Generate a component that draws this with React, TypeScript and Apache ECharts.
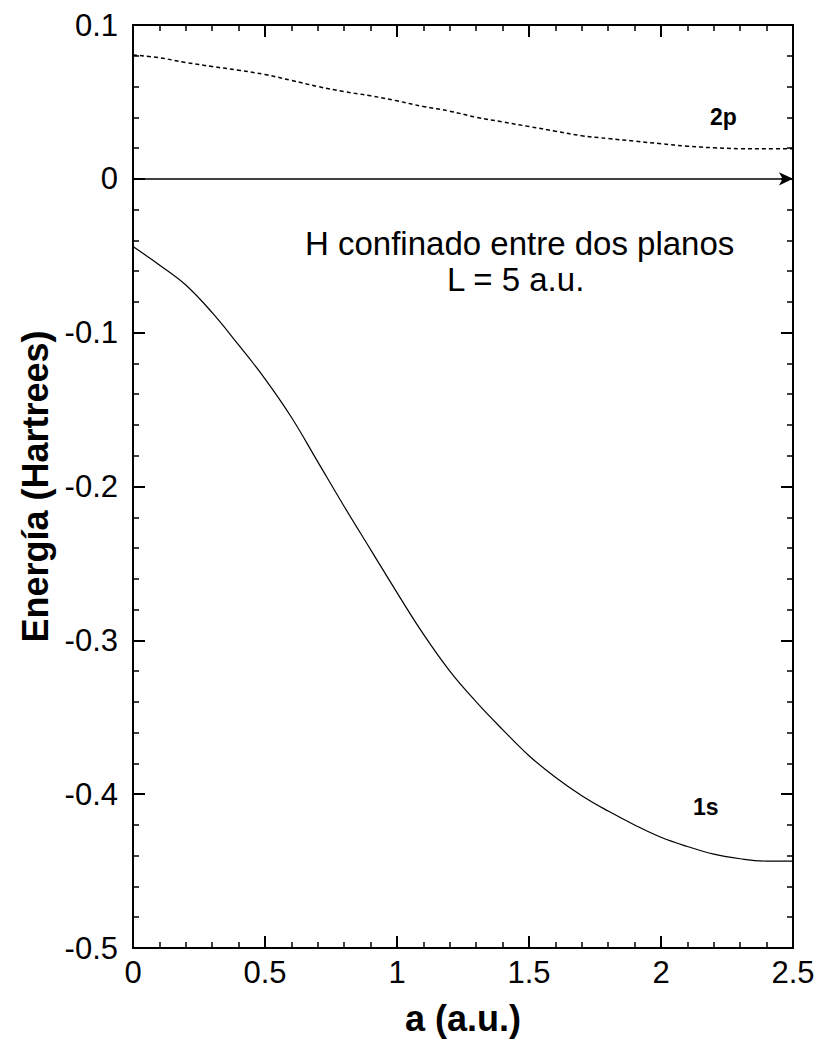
import React, { useEffect, useRef } from "react";
import * as echarts from "echarts";

const xTicks = [0, 0.5, 1, 1.5, 2, 2.5];
const yTicks = [-0.5, -0.4, -0.3, -0.2, -0.1, 0, 0.1];

const aGrid = [0, 0.1, 0.2, 0.3, 0.4, 0.5, 0.6, 0.7, 0.8, 0.9, 1.0, 1.1, 1.2, 1.3, 1.4, 1.5, 1.6, 1.7, 1.8, 1.9, 2.0, 2.1, 2.2, 2.3, 2.4, 2.5];
const eS1 = [-0.044, -0.056, -0.069, -0.087, -0.108, -0.13, -0.155, -0.184, -0.213, -0.241, -0.269, -0.296, -0.32, -0.34, -0.358, -0.375, -0.389, -0.401, -0.411, -0.42, -0.428, -0.434, -0.439, -0.442, -0.4435, -0.4435];
const eP2 = [0.0805, 0.0787, 0.0756, 0.073, 0.0706, 0.0678, 0.064, 0.06, 0.0567, 0.054, 0.0507, 0.047, 0.044, 0.04, 0.037, 0.034, 0.031, 0.028, 0.0262, 0.0245, 0.0228, 0.0212, 0.0202, 0.0196, 0.0195, 0.0195];

const FONT = "'Liberation Sans', Arial, sans-serif";

export default function App() {
  const ref = useRef<HTMLDivElement>(null);
  useEffect(() => {
    if (!ref.current) return;
    const chart = echarts.init(ref.current, null, { renderer: "svg" });
    const axisCommon = {
      type: "value" as const,
      axisLine: { show: true, onZero: false, lineStyle: { color: "#000", width: 2 } },
      axisTick: { show: true, inside: true, length: 12, lineStyle: { color: "#000", width: 2 } },
      minorTick: { show: true, splitNumber: 5, length: 6, lineStyle: { color: "#000", width: 1.5 } },
      splitLine: { show: false },
    };
    chart.setOption({
      animation: false,
      backgroundColor: "#fff",
      grid: { left: 133, right: 29, top: 25, bottom: 94 },
      xAxis: [
        {
          ...axisCommon,
          position: "bottom",
          min: xTicks[0],
          max: xTicks[xTicks.length - 1],
          interval: 0.5,
          axisLabel: { fontFamily: FONT, fontSize: 31, color: "#000", margin: 9, formatter: (v: number) => String(v) },
          name: "a (a.u.)",
          nameLocation: "middle",
          nameGap: 52,
          nameTextStyle: { fontFamily: FONT, fontSize: 36, fontWeight: "bold", color: "#000" },
        },
        {
          ...axisCommon,
          position: "top",
          min: xTicks[0],
          max: xTicks[xTicks.length - 1],
          interval: 0.5,
          axisLabel: { show: false },
        },
      ],
      yAxis: [
        {
          ...axisCommon,
          position: "left",
          min: yTicks[0],
          max: yTicks[yTicks.length - 1],
          interval: 0.1,
          axisLabel: { fontFamily: FONT, fontSize: 31, color: "#000", margin: 15, formatter: (v: number) => String(Math.round(v * 10) / 10) },
          name: "Energía (Hartrees)",
          nameLocation: "middle",
          nameGap: 73,
          nameRotate: 90,
          nameTextStyle: { fontFamily: FONT, fontSize: 36, fontWeight: "bold", color: "#000" },
        },
        {
          ...axisCommon,
          position: "right",
          min: yTicks[0],
          max: yTicks[yTicks.length - 1],
          interval: 0.1,
          axisLabel: { show: false },
        },
      ],
      series: [
        {
          type: "line",
          name: "1s",
          data: aGrid.map((a, i) => [a, eS1[i]]),
          smooth: 0.4,
          showSymbol: false,
          lineStyle: { color: "#000", width: 1.2 },
        },
        {
          type: "line",
          name: "2p",
          data: aGrid.map((a, i) => [a, eP2[i]]),
          smooth: 0.4,
          showSymbol: false,
          lineStyle: { color: "#000", width: 1.5, type: [4, 3] },
        },
        {
          type: "line",
          name: "zero",
          data: [],
          markLine: {
            silent: true,
            symbol: ["none", "arrow"],
            symbolSize: [10, 14],
            label: { show: false },
            lineStyle: { color: "#000", width: 1.5, type: "solid" },
            data: [[{ coord: [0, 0] }, { coord: [2.5, 0] }]],
          },
        },
      ],
      graphic: [
        { type: "text", x: 305, y: 243, style: { text: "H confinado entre dos planos", font: `33px ${FONT}`, fill: "#000", verticalAlign: "middle" } },
        { type: "text", x: 447, y: 279, style: { text: "L = 5 a.u.", font: `33px ${FONT}`, fill: "#000", verticalAlign: "middle" } },
        { type: "text", x: 710, y: 117, style: { text: "2p", font: `bold 23px ${FONT}`, fill: "#000", verticalAlign: "middle" } },
        { type: "text", x: 693, y: 807, style: { text: "1s", font: `bold 23px ${FONT}`, fill: "#000", verticalAlign: "middle" } },
      ],
    });
    return () => chart.dispose();
  }, []);
  return <div ref={ref} style={{ position: "absolute", left: 0, top: 0, width: 822, height: 1042 }} />;
}
